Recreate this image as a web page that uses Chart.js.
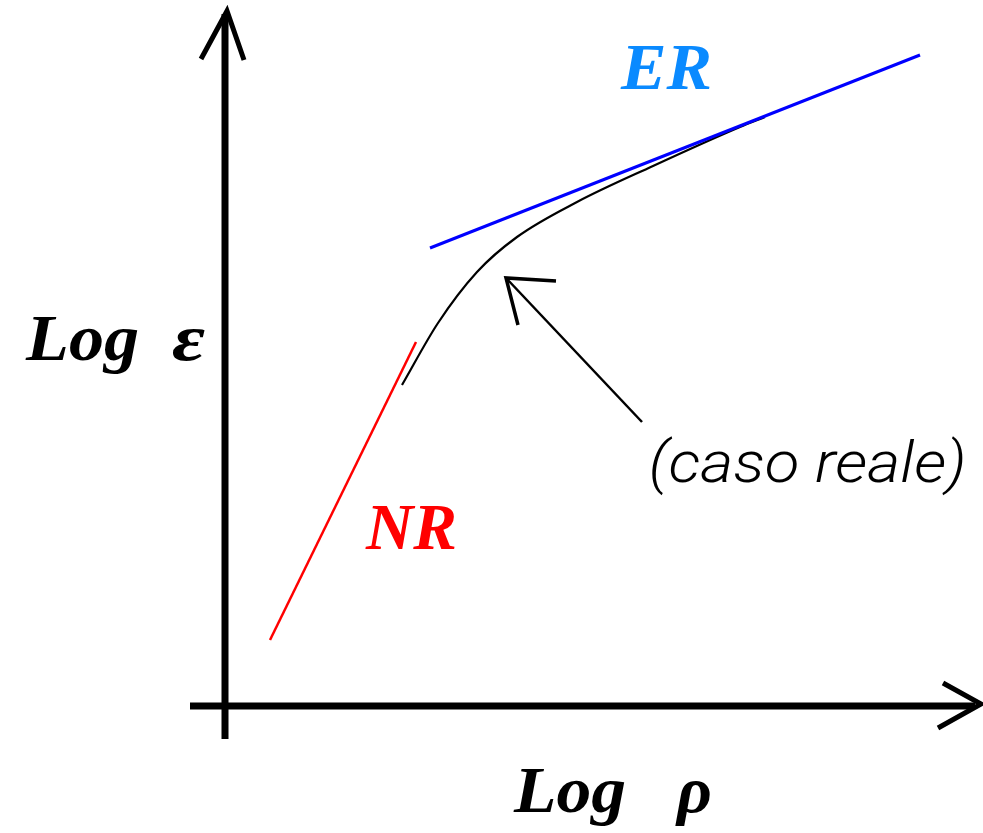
<!DOCTYPE html>
<html>
<head>
<meta charset="utf-8">
<script src="https://cdn.jsdelivr.net/npm/chart.js@4"></script>
<style>
  html, body { margin:0; padding:0; background:#fff; }
  canvas { display:block; }
</style>
</head>
<body>
<canvas id="diagram" width="983" height="833"></canvas>
<script>
// schematic in arbitrary log units (origin = axes crossing)
const axisYX = [0, 0],        axisYY = [-0.33, 6.92];
const arrowYX = [-0.24, 0.02, 0.19], arrowYY = [6.47, 6.95, 6.46];
const axisXX = [-0.35, 7.5],  axisXY = [0, 0];
const arrowXX = [7.18, 7.56, 7.13], arrowXY = [0.23, 0.02, -0.22];

// NR asymptote (red) and ER asymptote (blue)
const nrX = [0.45, 1.91], nrY = [0.66, 3.64];
const erX = [2.05, 6.95], erY = [4.58, 6.51];

// real behaviour (black curve)
const realX = [1.77, 2.13, 2.52, 2.92, 3.52, 4.28, 5.15, 5.40];
const realY = [3.21, 3.83, 4.34, 4.69, 5.04, 5.40, 5.79, 5.89];

// pointer arrow to the curve
const pointerX = [4.17, 2.82], pointerY = [2.84, 4.27];
const headX = [3.31, 2.81, 2.93], headY = [4.25, 4.28, 3.81];

const labels = ['ER', 'NR', 'Log', 'ε', 'Log', 'ρ', '(caso reale)'];

const pts = (xs, ys) => xs.map((x, i) => ({ x, y: ys[i] }));

function seg(xs, ys, color, width, extra) {
  return Object.assign({
    data: pts(xs, ys),
    showLine: true,
    borderColor: color,
    borderWidth: width,
    pointRadius: 0,
    fill: false,
    borderJoinStyle: 'miter',
    borderCapStyle: 'butt'
  }, extra || {});
}

// draw text stretched to fit a given ink width (in px)
function fitText(ctx, text, x, y, w, font, color) {
  ctx.save();
  ctx.font = font;
  const m = ctx.measureText(text);
  const ink = m.actualBoundingBoxLeft + m.actualBoundingBoxRight;
  const k = w / ink;
  ctx.translate(x + m.actualBoundingBoxLeft * k, y);
  ctx.scale(k, 1);
  ctx.fillStyle = color;
  ctx.textBaseline = 'alphabetic';
  ctx.textAlign = 'left';
  ctx.fillText(text, 0, 0);
  ctx.restore();
}

const textPlugin = {
  id: 'diagramText',
  afterDatasetsDraw(chart) {
    const ctx = chart.ctx;
    const sx = chart.scales.x, sy = chart.scales.y;
    const px = v => sx.getPixelForValue(v);
    const py = v => sy.getPixelForValue(v);
    const unit = px(1) - px(0);
    const serif = 'italic bold 66px "Liberation Serif", "DejaVu Serif", serif';
    fitText(ctx, labels[0], px(3.95), py(6.17), 0.90 * unit, serif, '#0a8aff');
    fitText(ctx, labels[1], px(1.40), py(1.57), 0.90 * unit, serif, '#ff0000');
    fitText(ctx, labels[2], px(-2.00), py(3.46), 1.13 * unit, serif, '#000');
    fitText(ctx, labels[3], px(-0.53), py(3.46), 0.33 * unit, serif, '#000');
    fitText(ctx, labels[4], px(2.88), py(-1.06), 1.12 * unit, serif, '#000');
    fitText(ctx, labels[5], px(4.50), py(-1.06), 0.35 * unit, serif, '#000');
    fitText(ctx, labels[6], px(4.27), py(2.24), 3.11 * unit,
      'italic 300 57px Roboto, "DejaVu Sans", sans-serif', '#000');
  }
};

new Chart(document.getElementById('diagram'), {
  type: 'scatter',
  data: {
    datasets: [
      seg(erX, erY, '#0000ff', 3),
      seg(realX, realY, '#000', 2.2, { cubicInterpolationMode: 'monotone' }),
      seg(nrX, nrY, '#ff0000', 2.5),
      seg(pointerX, pointerY, '#000', 2.5),
      seg(headX, headY, '#000', 3.5),
      seg(axisYX, axisYY, '#000', 7),
      seg(arrowYX, arrowYY, '#000', 5),
      seg(axisXX, axisXY, '#000', 7),
      seg(arrowXX, arrowXY, '#000', 5)
    ]
  },
  options: {
    responsive: false,
    animation: false,
    layout: { padding: 0 },
    plugins: { legend: { display: false }, tooltip: { enabled: false } },
    scales: {
      x: { type: 'linear', display: false, min: -2.25, max: 7.58 },
      y: { type: 'linear', display: false, min: -1.27, max: 7.06 }
    }
  },
  plugins: [textPlugin]
});
</script>
</body>
</html>
